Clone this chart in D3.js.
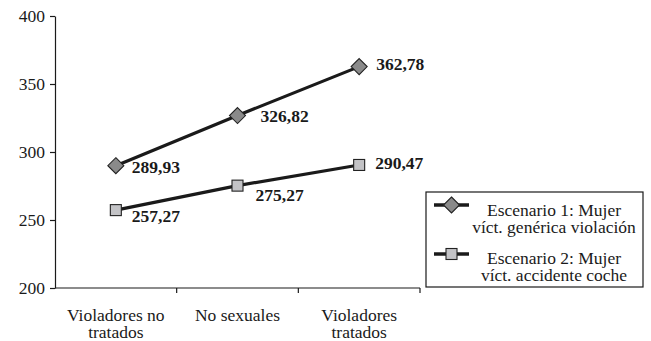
<!DOCTYPE html>
<html>
<head>
<meta charset="utf-8">
<script src="https://cdn.jsdelivr.net/npm/d3@7"></script>
<style>
  html, body { margin: 0; padding: 0; background: #fff; }
  #s text { font-family: "Liberation Serif", "Times New Roman", Tinos, FreeSerif, serif !important; }
</style>
</head>
<body>
<svg id="s" width="651" height="341" font-family="Liberation Serif"></svg>
<script>
// ---- data ----
const categories = [["Violadores no", "tratados"], ["No sexuales"], ["Violadores", "tratados"]];
const series1Name = ["Escenario 1: Mujer", "víct. genérica violación"];
const series2Name = ["Escenario 2: Mujer", "víct. accidente coche"];
const series1Values = [289.93, 326.82, 362.78];
const series2Values = [257.27, 275.27, 290.47];
const yTicks = [200, 250, 300, 350, 400];

// ---- layout ----
const svg = d3.select("#s");
const catKeys = categories.map(c => c.join(" "));
const x = d3.scaleBand().domain(catKeys).range([55, 420]);
const y = d3.scaleLinear().domain([200, 400]).range([288, 16]);
const FS = 17.5;
const LH = 16.6;
const ink = "#1a1a1a";
const FAM = '"Liberation Serif", "Times New Roman", Tinos, FreeSerif, serif';

function txt(px, py, s, anchor, bold) {
  return svg.append("text")
    .attr("x", px).attr("y", py)
    .attr("text-anchor", anchor || "start")
    .attr("font-family", "Liberation Serif")
    .attr("font-size", FS)
    .attr("font-weight", bold ? "bold" : "normal")
    .attr("fill", ink)
    .style("font-family", FAM)
    .style("font-size", FS + "px")
    .text(s);
}

// y axis
const yAxis = d3.axisLeft(y).tickValues(yTicks).tickSize(5).tickSizeOuter(0).tickFormat(() => "");
const gy = svg.append("g").attr("transform", "translate(55,0)").call(yAxis);
gy.attr("font-family", null).attr("font-size", null);
gy.select(".domain").attr("stroke", ink).attr("stroke-width", 1.2);
gy.selectAll(".tick line").attr("stroke", ink).attr("stroke-width", 1.2);
yTicks.forEach(d => txt(45, y(d) + 6, String(d), "end"));

// x axis (ticks at category boundaries)
const xb = svg.append("g");
xb.append("line").attr("x1", x.range()[0]).attr("x2", x.range()[1])
  .attr("y1", y(200)).attr("y2", y(200)).attr("stroke", ink).attr("stroke-width", 1.2);
const bounds = catKeys.map(k => x(k)).concat([x.range()[1]]);
xb.selectAll("line.tk").data(bounds.slice(1)).enter().append("line").attr("class", "tk")
  .attr("x1", d => d).attr("x2", d => d).attr("y1", y(200)).attr("y2", y(200) + 5)
  .attr("stroke", ink).attr("stroke-width", 1.2);
categories.forEach((lines, i) => {
  lines.forEach((l, j) => txt(x(catKeys[i]) + x.bandwidth() / 2, 321 + j * LH, l, "middle"));
});

const cx = (d, i) => x(catKeys[i]) + x.bandwidth() / 2;
const line = d3.line().x((d, i) => cx(d, i)).y(d => y(d));

function diamond(g, px, py) {
  g.append("path").attr("d", `M${px},${py - 8}L${px + 8},${py}L${px},${py + 8}L${px - 8},${py}Z`)
    .attr("fill", "#8a8a8a").attr("stroke", "#222").attr("stroke-width", 1.1);
}
function square(g, px, py) {
  g.append("rect").attr("x", px - 5.5).attr("y", py - 5.5).attr("width", 11).attr("height", 11)
    .attr("fill", "#c3c3c6").attr("stroke", "#222").attr("stroke-width", 1.1);
}

const fmt = v => d3.format(".2f")(v).replace(".", ",");
const off1 = [[16, 7], [23, 6], [17, 3]];
const off2 = [[16, 12], [18, 15], [16, 4]];

[[series1Values, diamond, off1], [series2Values, square, off2]].forEach(([vals, mark, off]) => {
  const g = svg.append("g");
  g.append("path").datum(vals).attr("d", line).attr("fill", "none")
    .attr("stroke", ink).attr("stroke-width", 3.2);
  vals.forEach((v, i) => mark(g, cx(v, i), y(v)));
  vals.forEach((v, i) => txt(cx(v, i) + off[i][0], y(v) + off[i][1], fmt(v), "start", true));
});

// legend
const lg = svg.append("g");
lg.append("rect").attr("x", 426).attr("y", 192).attr("width", 217).attr("height", 95)
  .attr("fill", "#fff").attr("stroke", ink).attr("stroke-width", 1.2);
[[series1Name, diamond, 205, 216], [series2Name, square, 254, 264]].forEach(([name, mark, sy, by]) => {
  lg.append("line").attr("x1", 434).attr("x2", 469).attr("y1", sy).attr("y2", sy)
    .attr("stroke", ink).attr("stroke-width", 3.5);
  mark(lg, 451.5, sy);
  name.forEach((l, j) => txt(554, by + j * LH, l, "middle"));
});
</script>
</body>
</html>
